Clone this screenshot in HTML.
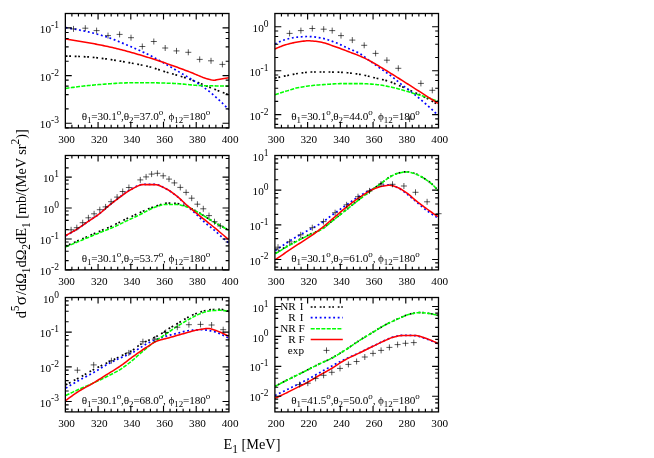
<!DOCTYPE html>
<html lang="en">
<head>
<meta charset="utf-8">
<title>d5sigma cross sections</title>
<style>
html,body{margin:0;padding:0;background:#fff;}
body{width:654px;height:458px;overflow:hidden;font-family:"Liberation Serif",serif;}
svg{display:block;opacity:0.999;will-change:transform;}
</style>
</head>
<body>
<svg width="654" height="458" viewBox="0 0 654 458" font-family='"Liberation Serif", serif' fill="#000">
<rect x="0" y="0" width="654" height="458" fill="#fff"/>
<g id="p00">
<clipPath id="c00"><rect x="65.35" y="13.5" width="163.6" height="114.4"/></clipPath>
<g clip-path="url(#c00)" fill="none" stroke-linejoin="round">
<path d="M65.7 56.1 L67.21 56.11 L68.72 56.13 L70.23 56.16 L71.74 56.19 L73.25 56.24 L74.76 56.29 L76.27 56.35 L77.78 56.41 L79.29 56.48 L80.8 56.55 L82.31 56.63 L83.82 56.71 L85.33 56.79 L86.84 56.87 L88.35 56.97 L89.86 57.09 L91.37 57.21 L92.88 57.36 L94.39 57.51 L95.9 57.67 L97.41 57.84 L98.92 58.02 L100.43 58.2 L101.94 58.38 L103.45 58.57 L104.96 58.77 L106.48 58.96 L107.99 59.15 L109.5 59.36 L111.01 59.58 L112.52 59.81 L114.03 60.04 L115.54 60.29 L117.05 60.54 L118.56 60.8 L120.07 61.06 L121.58 61.32 L123.09 61.59 L124.6 61.87 L126.11 62.14 L127.62 62.41 L129.13 62.69 L130.64 62.96 L132.15 63.23 L133.66 63.51 L135.17 63.79 L136.68 64.07 L138.19 64.36 L139.7 64.66 L141.21 64.96 L142.72 65.28 L144.23 65.6 L145.74 65.94 L147.25 66.28 L148.76 66.64 L150.27 67.02 L151.78 67.43 L153.29 67.87 L154.8 68.34 L156.31 68.82 L157.82 69.31 L159.33 69.82 L160.84 70.33 L162.35 70.83 L163.86 71.33 L165.37 71.81 L166.88 72.28 L168.39 72.73 L169.9 73.18 L171.41 73.62 L172.92 74.05 L174.43 74.48 L175.94 74.92 L177.45 75.35 L178.96 75.79 L180.47 76.24 L181.98 76.69 L183.49 77.16 L185 77.64 L186.51 78.13 L188.03 78.65 L189.54 79.18 L191.05 79.74 L192.56 80.32 L194.07 80.91 L195.58 81.51 L197.09 82.13 L198.6 82.75 L200.11 83.38 L201.62 84.01 L203.13 84.64 L204.64 85.27 L206.15 85.89 L207.66 86.5 L209.17 87.11 L210.68 87.7 L212.19 88.3 L213.7 88.89 L215.21 89.49 L216.72 90.08 L218.23 90.67 L219.74 91.27 L221.25 91.86 L222.76 92.45 L224.27 93.04 L225.78 93.62 L227.29 94.21 L228.8 94.8" stroke="#000" stroke-width="1.7" stroke-dasharray="1.8 1.7 1.8 3.72"/>
<path d="M65.7 27.7 L67.21 27.91 L68.72 28.14 L70.23 28.38 L71.74 28.62 L73.25 28.88 L74.76 29.15 L76.27 29.42 L77.78 29.71 L79.29 30 L80.8 30.3 L82.31 30.61 L83.82 30.92 L85.33 31.24 L86.84 31.57 L88.35 31.91 L89.86 32.27 L91.37 32.63 L92.88 33.01 L94.39 33.39 L95.9 33.79 L97.41 34.2 L98.92 34.62 L100.43 35.05 L101.94 35.5 L103.45 35.95 L104.96 36.42 L106.48 36.9 L107.99 37.39 L109.5 37.91 L111.01 38.45 L112.52 39.02 L114.03 39.6 L115.54 40.2 L117.05 40.81 L118.56 41.44 L120.07 42.07 L121.58 42.71 L123.09 43.36 L124.6 44.01 L126.11 44.65 L127.62 45.3 L129.13 45.94 L130.64 46.58 L132.15 47.22 L133.66 47.87 L135.17 48.53 L136.68 49.19 L138.19 49.85 L139.7 50.53 L141.21 51.21 L142.72 51.9 L144.23 52.61 L145.74 53.32 L147.25 54.05 L148.76 54.78 L150.27 55.54 L151.78 56.31 L153.29 57.11 L154.8 57.92 L156.31 58.75 L157.82 59.59 L159.33 60.44 L160.84 61.29 L162.35 62.15 L163.86 63.01 L165.37 63.87 L166.88 64.74 L168.39 65.62 L169.9 66.5 L171.41 67.39 L172.92 68.29 L174.43 69.19 L175.94 70.09 L177.45 70.99 L178.96 71.89 L180.47 72.78 L181.98 73.68 L183.49 74.56 L185 75.44 L186.51 76.32 L188.03 77.21 L189.54 78.11 L191.05 79.02 L192.56 79.94 L194.07 80.89 L195.58 81.87 L197.09 82.84 L198.6 83.84 L200.11 84.84 L201.62 85.86 L203.13 86.91 L204.64 87.99 L206.15 89.09 L207.66 90.23 L209.17 91.41 L210.68 92.63 L212.19 93.88 L213.7 95.16 L215.21 96.47 L216.72 97.81 L218.23 99.19 L219.74 100.6 L221.25 102.04 L222.76 103.51 L224.27 105.01 L225.78 106.54 L227.29 108.11 L228.8 109.7" stroke="#0000ff" stroke-width="1.7" stroke-dasharray="1.85 2.65"/>
<path d="M65.5 88.4 L67.01 88.19 L68.52 87.97 L70.04 87.77 L71.55 87.56 L73.06 87.36 L74.57 87.16 L76.08 86.97 L77.6 86.78 L79.11 86.59 L80.62 86.41 L82.13 86.23 L83.64 86.06 L85.16 85.89 L86.67 85.72 L88.18 85.56 L89.69 85.41 L91.2 85.26 L92.72 85.12 L94.23 84.98 L95.74 84.85 L97.25 84.72 L98.76 84.6 L100.28 84.49 L101.79 84.37 L103.3 84.25 L104.81 84.13 L106.33 84.01 L107.84 83.89 L109.35 83.78 L110.86 83.67 L112.37 83.56 L113.89 83.46 L115.4 83.36 L116.91 83.27 L118.42 83.18 L119.93 83.1 L121.45 83.03 L122.96 82.96 L124.47 82.91 L125.98 82.86 L127.49 82.83 L129.01 82.8 L130.52 82.79 L132.03 82.77 L133.54 82.76 L135.05 82.75 L136.57 82.74 L138.08 82.73 L139.59 82.72 L141.1 82.71 L142.61 82.71 L144.13 82.7 L145.64 82.7 L147.15 82.7 L148.66 82.71 L150.17 82.72 L151.69 82.74 L153.2 82.76 L154.71 82.79 L156.22 82.82 L157.73 82.86 L159.25 82.9 L160.76 82.95 L162.27 82.99 L163.78 83.04 L165.29 83.1 L166.81 83.15 L168.32 83.21 L169.83 83.26 L171.34 83.32 L172.85 83.38 L174.37 83.44 L175.88 83.52 L177.39 83.62 L178.9 83.73 L180.41 83.86 L181.93 83.99 L183.44 84.14 L184.95 84.28 L186.46 84.44 L187.98 84.59 L189.49 84.74 L191 84.88 L192.51 85.02 L194.02 85.15 L195.54 85.27 L197.05 85.38 L198.56 85.47 L200.07 85.54 L201.58 85.59 L203.1 85.63 L204.61 85.67 L206.12 85.7 L207.63 85.74 L209.14 85.77 L210.66 85.8 L212.17 85.83 L213.68 85.86 L215.19 85.88 L216.7 85.91 L218.22 85.93 L219.73 85.94 L221.24 85.96 L222.75 85.97 L224.26 85.99 L225.78 85.99 L227.29 86 L228.8 86" stroke="#00ff00" stroke-width="1.55" stroke-dasharray="4.0 1.34"/>
<path d="M65.7 39.1 L67.21 39.32 L68.72 39.54 L70.23 39.76 L71.74 39.99 L73.25 40.22 L74.76 40.46 L76.27 40.7 L77.78 40.94 L79.29 41.19 L80.8 41.44 L82.31 41.69 L83.82 41.95 L85.33 42.21 L86.84 42.47 L88.35 42.74 L89.86 43.01 L91.37 43.28 L92.88 43.56 L94.39 43.84 L95.9 44.13 L97.41 44.42 L98.92 44.71 L100.43 45.01 L101.94 45.32 L103.45 45.63 L104.96 45.94 L106.48 46.26 L107.99 46.59 L109.5 46.92 L111.01 47.26 L112.52 47.6 L114.03 47.95 L115.54 48.31 L117.05 48.68 L118.56 49.06 L120.07 49.44 L121.58 49.83 L123.09 50.22 L124.6 50.62 L126.11 51.02 L127.62 51.43 L129.13 51.84 L130.64 52.26 L132.15 52.67 L133.66 53.1 L135.17 53.52 L136.68 53.96 L138.19 54.4 L139.7 54.84 L141.21 55.3 L142.72 55.75 L144.23 56.22 L145.74 56.68 L147.25 57.15 L148.76 57.62 L150.27 58.1 L151.78 58.58 L153.29 59.06 L154.8 59.55 L156.31 60.04 L157.82 60.54 L159.33 61.04 L160.84 61.55 L162.35 62.06 L163.86 62.57 L165.37 63.09 L166.88 63.61 L168.39 64.13 L169.9 64.66 L171.41 65.19 L172.92 65.72 L174.43 66.26 L175.94 66.8 L177.45 67.35 L178.96 67.91 L180.47 68.47 L181.98 69.03 L183.49 69.6 L185 70.17 L186.51 70.74 L188.03 71.31 L189.54 71.89 L191.05 72.47 L192.56 73.08 L194.07 73.7 L195.58 74.34 L197.09 74.99 L198.6 75.63 L200.11 76.26 L201.62 76.87 L203.13 77.45 L204.64 77.99 L206.15 78.49 L207.66 78.94 L209.17 79.36 L210.68 79.73 L212.19 80.05 L213.7 80.3 L215.21 80.13 L216.72 79.81 L218.23 79.54 L219.74 79.27 L221.25 79.01 L222.76 78.74 L224.27 78.48 L225.78 78.22 L227.29 77.96 L228.8 77.7" stroke="#ff0000" stroke-width="1.55"/>
</g>
<path d="M70.5 28.9h6M73.5 25.9v6M82.3 28.2h6M85.3 25.2v6M93.6 30.6h6M96.6 27.6v6M105 35.6h6M108 32.6v6M116.6 34.4h6M119.6 31.4v6M128 37.7h6M131 34.7v6M139.3 46.5h6M142.3 43.5v6M150.8 41.5h6M153.8 38.5v6M162.2 48h6M165.2 45v6M173.5 50.9h6M176.5 47.9v6M185.3 52.3h6M188.3 49.3v6M196.7 59.4h6M199.7 56.4v6M208 60.8h6M211 57.8v6M219.4 64.4h6M222.4 61.4v6" stroke="#000" stroke-width="0.65" fill="none"/>
<path d="M71.89 127.9v-3.1M71.89 13.5v3.1M78.44 127.9v-3.1M78.44 13.5v3.1M84.98 127.9v-3.1M84.98 13.5v3.1M91.53 127.9v-3.1M91.53 13.5v3.1M98.07 127.9v-6M98.07 13.5v6M104.61 127.9v-3.1M104.61 13.5v3.1M111.16 127.9v-3.1M111.16 13.5v3.1M117.7 127.9v-3.1M117.7 13.5v3.1M124.25 127.9v-3.1M124.25 13.5v3.1M130.79 127.9v-6M130.79 13.5v6M137.33 127.9v-3.1M137.33 13.5v3.1M143.88 127.9v-3.1M143.88 13.5v3.1M150.42 127.9v-3.1M150.42 13.5v3.1M156.97 127.9v-3.1M156.97 13.5v3.1M163.51 127.9v-6M163.51 13.5v6M170.05 127.9v-3.1M170.05 13.5v3.1M176.6 127.9v-3.1M176.6 13.5v3.1M183.14 127.9v-3.1M183.14 13.5v3.1M189.69 127.9v-3.1M189.69 13.5v3.1M196.23 127.9v-6M196.23 13.5v6M202.77 127.9v-3.1M202.77 13.5v3.1M209.32 127.9v-3.1M209.32 13.5v3.1M215.86 127.9v-3.1M215.86 13.5v3.1M222.41 127.9v-3.1M222.41 13.5v3.1M65.35 127.9h3.3M228.95 127.9h-3.3M65.35 123.28h6.4M228.95 123.28h-6.4M65.35 108.92h3.3M228.95 108.92h-3.3M65.35 94.55h3.3M228.95 94.55h-3.3M65.35 86.15h3.3M228.95 86.15h-3.3M65.35 80.19h3.3M228.95 80.19h-3.3M65.35 75.57h6.4M228.95 75.57h-6.4M65.35 61.21h3.3M228.95 61.21h-3.3M65.35 46.85h3.3M228.95 46.85h-3.3M65.35 38.45h3.3M228.95 38.45h-3.3M65.35 32.48h3.3M228.95 32.48h-3.3M65.35 27.86h6.4M228.95 27.86h-6.4M65.35 13.5h3.3M228.95 13.5h-3.3" stroke="#000" stroke-width="1.15" fill="none"/>
<rect x="65.35" y="13.5" width="163.6" height="114.4" fill="none" stroke="#000" stroke-width="1.3"/>
<text x="66.55" y="142.9" font-size="11.2" text-anchor="middle">300</text>
<text x="99.27" y="142.9" font-size="11.2" text-anchor="middle">320</text>
<text x="131.99" y="142.9" font-size="11.2" text-anchor="middle">340</text>
<text x="164.71" y="142.9" font-size="11.2" text-anchor="middle">360</text>
<text x="197.43" y="142.9" font-size="11.2" text-anchor="middle">380</text>
<text x="230.15" y="142.9" font-size="11.2" text-anchor="middle">400</text>
<text x="58.95" y="32.96" font-size="11.2" text-anchor="end">10<tspan font-size="9.52" dy="-5.1">-1</tspan></text>
<text x="58.95" y="80.67" font-size="11.2" text-anchor="end">10<tspan font-size="9.52" dy="-5.1">-2</tspan></text>
<text x="58.95" y="128.38" font-size="11.2" text-anchor="end">10<tspan font-size="9.52" dy="-5.1">-3</tspan></text>
<text x="81.75" y="119.6" font-size="11.2" textLength="128.4" lengthAdjust="spacing">θ<tspan font-size="8.96" dy="3.2">1</tspan><tspan dy="-3.2">=30.1</tspan><tspan font-size="8.96" dy="-5">o</tspan><tspan dy="5">,θ</tspan><tspan font-size="8.96" dy="3.2">2</tspan><tspan dy="-3.2">=37.0</tspan><tspan font-size="8.96" dy="-5">o</tspan><tspan dy="5">, ϕ</tspan><tspan font-size="8.96" dy="3.2">12</tspan><tspan dy="-3.2">=180</tspan><tspan font-size="8.96" dy="-5">o</tspan></text>
</g>
<g id="p10">
<clipPath id="c10"><rect x="274.9" y="13.5" width="163.6" height="114.4"/></clipPath>
<g clip-path="url(#c10)" fill="none" stroke-linejoin="round">
<path d="M275 78.1 L276.51 77.78 L278.02 77.45 L279.52 77.13 L281.03 76.82 L282.54 76.51 L284.05 76.2 L285.56 75.89 L287.07 75.59 L288.57 75.28 L290.08 74.96 L291.59 74.63 L293.1 74.32 L294.61 74.02 L296.12 73.75 L297.62 73.51 L299.13 73.3 L300.64 73.1 L302.15 72.89 L303.66 72.69 L305.17 72.5 L306.68 72.34 L308.18 72.2 L309.69 72.09 L311.2 72.02 L312.71 72 L314.22 72 L315.73 72 L317.23 72 L318.74 72 L320.25 72 L321.76 72 L323.27 72 L324.77 72 L326.28 72 L327.79 72 L329.3 72.01 L330.81 72.03 L332.32 72.06 L333.82 72.09 L335.33 72.12 L336.84 72.17 L338.35 72.21 L339.86 72.26 L341.37 72.31 L342.88 72.38 L344.38 72.48 L345.89 72.6 L347.4 72.73 L348.91 72.89 L350.42 73.06 L351.92 73.25 L353.43 73.44 L354.94 73.65 L356.45 73.87 L357.96 74.09 L359.47 74.32 L360.97 74.56 L362.48 74.84 L363.99 75.15 L365.5 75.5 L367.01 75.86 L368.52 76.25 L370.02 76.64 L371.53 77.03 L373.04 77.42 L374.55 77.79 L376.06 78.15 L377.57 78.49 L379.07 78.83 L380.58 79.17 L382.09 79.52 L383.6 79.88 L385.11 80.26 L386.62 80.67 L388.12 81.11 L389.63 81.6 L391.14 82.14 L392.65 82.72 L394.16 83.34 L395.67 83.99 L397.17 84.64 L398.68 85.31 L400.19 85.97 L401.7 86.61 L403.21 87.27 L404.72 87.93 L406.22 88.6 L407.73 89.28 L409.24 89.96 L410.75 90.66 L412.26 91.35 L413.77 92.05 L415.27 92.75 L416.78 93.45 L418.29 94.15 L419.8 94.85 L421.31 95.56 L422.82 96.29 L424.32 97.03 L425.83 97.79 L427.34 98.57 L428.85 99.38 L430.36 100.21 L431.87 101.07 L433.38 101.95 L434.88 102.85 L436.39 103.76 L437.9 104.7" stroke="#000" stroke-width="1.7" stroke-dasharray="1.8 1.7 1.8 3.72"/>
<path d="M275 44.1 L276.51 43.31 L278.02 42.55 L279.52 41.83 L281.03 41.16 L282.54 40.55 L284.05 39.99 L285.56 39.5 L287.07 39.08 L288.57 38.71 L290.08 38.35 L291.59 38.02 L293.1 37.72 L294.61 37.46 L296.12 37.24 L297.62 37.07 L299.13 36.94 L300.64 36.83 L302.15 36.73 L303.66 36.64 L305.17 36.57 L306.68 36.52 L308.18 36.5 L309.69 36.53 L311.2 36.61 L312.71 36.74 L314.22 36.91 L315.73 37.11 L317.23 37.32 L318.74 37.55 L320.25 37.79 L321.76 38.08 L323.27 38.43 L324.77 38.83 L326.28 39.28 L327.79 39.76 L329.3 40.27 L330.81 40.79 L332.32 41.33 L333.82 41.87 L335.33 42.44 L336.84 43.05 L338.35 43.71 L339.86 44.4 L341.37 45.11 L342.88 45.83 L344.38 46.55 L345.89 47.28 L347.4 47.98 L348.91 48.66 L350.42 49.31 L351.92 49.94 L353.43 50.57 L354.94 51.21 L356.45 51.89 L357.96 52.61 L359.47 53.4 L360.97 54.29 L362.48 55.32 L363.99 56.45 L365.5 57.64 L367.01 58.83 L368.52 60 L370.02 61.09 L371.53 62.17 L373.04 63.24 L374.55 64.3 L376.06 65.35 L377.57 66.4 L379.07 67.46 L380.58 68.51 L382.09 69.57 L383.6 70.64 L385.11 71.71 L386.62 72.77 L388.12 73.83 L389.63 74.91 L391.14 76.03 L392.65 77.18 L394.16 78.39 L395.67 79.63 L397.17 80.89 L398.68 82.16 L400.19 83.4 L401.7 84.62 L403.21 85.8 L404.72 86.94 L406.22 88.07 L407.73 89.19 L409.24 90.31 L410.75 91.44 L412.26 92.59 L413.77 93.77 L415.27 94.99 L416.78 96.23 L418.29 97.48 L419.8 98.76 L421.31 100.05 L422.82 101.35 L424.32 102.67 L425.83 104 L427.34 105.35 L428.85 106.7 L430.36 108.08 L431.87 109.47 L433.38 110.88 L434.88 112.31 L436.39 113.75 L437.9 115.2" stroke="#0000ff" stroke-width="1.7" stroke-dasharray="1.85 2.65"/>
<path d="M275 94.7 L276.51 94.2 L278.02 93.71 L279.52 93.23 L281.03 92.75 L282.54 92.27 L284.05 91.8 L285.56 91.34 L287.07 90.88 L288.57 90.41 L290.08 89.93 L291.59 89.45 L293.1 88.98 L294.61 88.53 L296.12 88.12 L297.62 87.76 L299.13 87.46 L300.64 87.17 L302.15 86.91 L303.66 86.66 L305.17 86.43 L306.68 86.21 L308.18 86.01 L309.69 85.82 L311.2 85.65 L312.71 85.49 L314.22 85.34 L315.73 85.21 L317.23 85.08 L318.74 84.96 L320.25 84.84 L321.76 84.74 L323.27 84.63 L324.77 84.53 L326.28 84.43 L327.79 84.33 L329.3 84.22 L330.81 84.11 L332.32 84 L333.82 83.89 L335.33 83.79 L336.84 83.71 L338.35 83.65 L339.86 83.61 L341.37 83.6 L342.88 83.6 L344.38 83.6 L345.89 83.6 L347.4 83.6 L348.91 83.6 L350.42 83.6 L351.92 83.6 L353.43 83.6 L354.94 83.6 L356.45 83.6 L357.96 83.6 L359.47 83.6 L360.97 83.6 L362.48 83.63 L363.99 83.68 L365.5 83.74 L367.01 83.82 L368.52 83.91 L370.02 84.02 L371.53 84.13 L373.04 84.24 L374.55 84.36 L376.06 84.49 L377.57 84.66 L379.07 84.85 L380.58 85.07 L382.09 85.31 L383.6 85.57 L385.11 85.84 L386.62 86.12 L388.12 86.4 L389.63 86.71 L391.14 87.04 L392.65 87.4 L394.16 87.79 L395.67 88.18 L397.17 88.59 L398.68 89.01 L400.19 89.42 L401.7 89.84 L403.21 90.26 L404.72 90.7 L406.22 91.15 L407.73 91.6 L409.24 92.06 L410.75 92.53 L412.26 92.99 L413.77 93.44 L415.27 93.89 L416.78 94.32 L418.29 94.76 L419.8 95.19 L421.31 95.62 L422.82 96.06 L424.32 96.52 L425.83 96.99 L427.34 97.48 L428.85 98 L430.36 98.54 L431.87 99.09 L433.38 99.67 L434.88 100.27 L436.39 100.88 L437.9 101.5" stroke="#00ff00" stroke-width="1.55" stroke-dasharray="4.0 1.34"/>
<path d="M275 49 L276.51 48.31 L278.02 47.64 L279.52 47.01 L281.03 46.4 L282.54 45.84 L284.05 45.31 L285.56 44.82 L287.07 44.38 L288.57 43.97 L290.08 43.58 L291.59 43.22 L293.1 42.87 L294.61 42.56 L296.12 42.27 L297.62 42.02 L299.13 41.79 L300.64 41.56 L302.15 41.33 L303.66 41.13 L305.17 40.96 L306.68 40.85 L308.18 40.8 L309.69 40.82 L311.2 40.9 L312.71 41.02 L314.22 41.17 L315.73 41.35 L317.23 41.55 L318.74 41.76 L320.25 41.99 L321.76 42.28 L323.27 42.64 L324.77 43.07 L326.28 43.54 L327.79 44.05 L329.3 44.58 L330.81 45.12 L332.32 45.66 L333.82 46.17 L335.33 46.69 L336.84 47.22 L338.35 47.77 L339.86 48.34 L341.37 48.91 L342.88 49.49 L344.38 50.07 L345.89 50.65 L347.4 51.23 L348.91 51.81 L350.42 52.37 L351.92 52.93 L353.43 53.49 L354.94 54.06 L356.45 54.65 L357.96 55.25 L359.47 55.87 L360.97 56.52 L362.48 57.2 L363.99 57.9 L365.5 58.63 L367.01 59.38 L368.52 60.15 L370.02 60.94 L371.53 61.76 L373.04 62.61 L374.55 63.48 L376.06 64.37 L377.57 65.27 L379.07 66.18 L380.58 67.09 L382.09 68.01 L383.6 68.92 L385.11 69.83 L386.62 70.75 L388.12 71.68 L389.63 72.62 L391.14 73.56 L392.65 74.5 L394.16 75.44 L395.67 76.39 L397.17 77.33 L398.68 78.28 L400.19 79.23 L401.7 80.18 L403.21 81.14 L404.72 82.09 L406.22 83.05 L407.73 84.01 L409.24 84.97 L410.75 85.93 L412.26 86.89 L413.77 87.85 L415.27 88.82 L416.78 89.78 L418.29 90.75 L419.8 91.72 L421.31 92.68 L422.82 93.65 L424.32 94.62 L425.83 95.59 L427.34 96.57 L428.85 97.54 L430.36 98.51 L431.87 99.49 L433.38 100.46 L434.88 101.44 L436.39 102.42 L437.9 103.4" stroke="#ff0000" stroke-width="1.55"/>
</g>
<path d="M286.6 33.4h6M289.6 30.4v6M297.9 30.6h6M300.9 27.6v6M309.3 28.5h6M312.3 25.5v6M320.7 29.2h6M323.7 26.2v6M329.2 30.6h6M332.2 27.6v6M338 35.6h6M341 32.6v6M349.3 40.1h6M352.3 37.1v6M361.2 45.3h6M364.2 42.3v6M372.6 53.4h6M375.6 50.4v6M383.9 60.2h6M386.9 57.2v6M395.3 68.3h6M398.3 65.3v6M406.6 119.1h6M409.6 116.1v6M417.9 83.4h6M420.9 80.4v6M429.3 90.3h6M432.3 87.3v6" stroke="#000" stroke-width="0.65" fill="none"/>
<path d="M281.44 127.9v-3.1M281.44 13.5v3.1M287.99 127.9v-3.1M287.99 13.5v3.1M294.53 127.9v-3.1M294.53 13.5v3.1M301.08 127.9v-3.1M301.08 13.5v3.1M307.62 127.9v-6M307.62 13.5v6M314.16 127.9v-3.1M314.16 13.5v3.1M320.71 127.9v-3.1M320.71 13.5v3.1M327.25 127.9v-3.1M327.25 13.5v3.1M333.8 127.9v-3.1M333.8 13.5v3.1M340.34 127.9v-6M340.34 13.5v6M346.88 127.9v-3.1M346.88 13.5v3.1M353.43 127.9v-3.1M353.43 13.5v3.1M359.97 127.9v-3.1M359.97 13.5v3.1M366.52 127.9v-3.1M366.52 13.5v3.1M373.06 127.9v-6M373.06 13.5v6M379.6 127.9v-3.1M379.6 13.5v3.1M386.15 127.9v-3.1M386.15 13.5v3.1M392.69 127.9v-3.1M392.69 13.5v3.1M399.24 127.9v-3.1M399.24 13.5v3.1M405.78 127.9v-6M405.78 13.5v6M412.32 127.9v-3.1M412.32 13.5v3.1M418.87 127.9v-3.1M418.87 13.5v3.1M425.41 127.9v-3.1M425.41 13.5v3.1M431.96 127.9v-3.1M431.96 13.5v3.1M274.9 124.42h3.3M438.5 124.42h-3.3M274.9 118.93h3.3M438.5 118.93h-3.3M274.9 114.67h6.4M438.5 114.67h-6.4M274.9 101.43h3.3M438.5 101.43h-3.3M274.9 88.2h3.3M438.5 88.2h-3.3M274.9 80.45h3.3M438.5 80.45h-3.3M274.9 74.96h3.3M438.5 74.96h-3.3M274.9 70.7h6.4M438.5 70.7h-6.4M274.9 57.47h3.3M438.5 57.47h-3.3M274.9 44.23h3.3M438.5 44.23h-3.3M274.9 36.49h3.3M438.5 36.49h-3.3M274.9 31h3.3M438.5 31h-3.3M274.9 26.73h6.4M438.5 26.73h-6.4M274.9 13.5h3.3M438.5 13.5h-3.3" stroke="#000" stroke-width="1.15" fill="none"/>
<rect x="274.9" y="13.5" width="163.6" height="114.4" fill="none" stroke="#000" stroke-width="1.3"/>
<text x="276.1" y="142.9" font-size="11.2" text-anchor="middle">300</text>
<text x="308.82" y="142.9" font-size="11.2" text-anchor="middle">320</text>
<text x="341.54" y="142.9" font-size="11.2" text-anchor="middle">340</text>
<text x="374.26" y="142.9" font-size="11.2" text-anchor="middle">360</text>
<text x="406.98" y="142.9" font-size="11.2" text-anchor="middle">380</text>
<text x="439.7" y="142.9" font-size="11.2" text-anchor="middle">400</text>
<text x="268.5" y="31.83" font-size="11.2" text-anchor="end">10<tspan font-size="9.52" dy="-5.1">0</tspan></text>
<text x="268.5" y="75.8" font-size="11.2" text-anchor="end">10<tspan font-size="9.52" dy="-5.1">-1</tspan></text>
<text x="268.5" y="119.77" font-size="11.2" text-anchor="end">10<tspan font-size="9.52" dy="-5.1">-2</tspan></text>
<text x="291.3" y="119.6" font-size="11.2" textLength="128.4" lengthAdjust="spacing">θ<tspan font-size="8.96" dy="3.2">1</tspan><tspan dy="-3.2">=30.1</tspan><tspan font-size="8.96" dy="-5">o</tspan><tspan dy="5">,θ</tspan><tspan font-size="8.96" dy="3.2">2</tspan><tspan dy="-3.2">=44.0</tspan><tspan font-size="8.96" dy="-5">o</tspan><tspan dy="5">, ϕ</tspan><tspan font-size="8.96" dy="3.2">12</tspan><tspan dy="-3.2">=180</tspan><tspan font-size="8.96" dy="-5">o</tspan></text>
</g>
<g id="p01">
<clipPath id="c01"><rect x="65.35" y="155.5" width="163.6" height="114.4"/></clipPath>
<g clip-path="url(#c01)" fill="none" stroke-linejoin="round">
<path d="M65.7 246.1 L67.21 245.45 L68.72 244.8 L70.23 244.14 L71.74 243.49 L73.25 242.83 L74.76 242.18 L76.26 241.52 L77.77 240.86 L79.28 240.2 L80.79 239.54 L82.3 238.88 L83.81 238.21 L85.32 237.55 L86.83 236.89 L88.34 236.23 L89.85 235.57 L91.36 234.9 L92.87 234.24 L94.38 233.58 L95.89 232.92 L97.39 232.26 L98.9 231.6 L100.41 230.94 L101.92 230.29 L103.43 229.65 L104.94 229.02 L106.45 228.39 L107.96 227.76 L109.47 227.12 L110.98 226.46 L112.49 225.76 L114 225.03 L115.51 224.29 L117.01 223.54 L118.52 222.79 L120.03 222.04 L121.54 221.27 L123.05 220.51 L124.56 219.74 L126.07 218.99 L127.58 218.27 L129.09 217.57 L130.6 216.88 L132.11 216.21 L133.62 215.54 L135.13 214.86 L136.64 214.17 L138.14 213.46 L139.65 212.75 L141.16 212.04 L142.67 211.35 L144.18 210.68 L145.69 210.02 L147.2 209.37 L148.71 208.75 L150.22 208.15 L151.73 207.58 L153.24 207.01 L154.75 206.47 L156.26 205.95 L157.76 205.47 L159.27 205.03 L160.78 204.57 L162.29 204.1 L163.8 203.69 L165.31 203.37 L166.82 203.21 L168.33 203.2 L169.84 203.21 L171.35 203.23 L172.86 203.25 L174.37 203.28 L175.88 203.33 L177.39 203.5 L178.89 203.8 L180.4 204.21 L181.91 204.69 L183.42 205.22 L184.93 205.77 L186.44 206.31 L187.95 206.9 L189.46 207.57 L190.97 208.32 L192.48 209.11 L193.99 209.93 L195.5 210.76 L197.01 211.59 L198.51 212.45 L200.02 213.35 L201.53 214.28 L203.04 215.22 L204.55 216.18 L206.06 217.15 L207.57 218.12 L209.08 219.07 L210.59 220.01 L212.1 220.93 L213.61 221.81 L215.12 222.69 L216.63 223.55 L218.14 224.41 L219.64 225.26 L221.15 226.11 L222.66 226.94 L224.17 227.77 L225.68 228.59 L227.19 229.4 L228.7 230.2" stroke="#000" stroke-width="1.7" stroke-dasharray="1.8 1.7 1.8 3.72"/>
<path d="M65.7 235.7 L67.21 234.91 L68.72 234.09 L70.23 233.25 L71.74 232.38 L73.25 231.5 L74.76 230.59 L76.26 229.66 L77.77 228.71 L79.28 227.71 L80.79 226.68 L82.3 225.62 L83.81 224.55 L85.32 223.47 L86.83 222.4 L88.34 221.34 L89.85 220.31 L91.36 219.3 L92.87 218.3 L94.38 217.3 L95.89 216.27 L97.39 215.21 L98.9 214.09 L100.41 212.91 L101.92 211.6 L103.43 210.22 L104.94 208.83 L106.45 207.5 L107.96 206.24 L109.47 205 L110.98 203.79 L112.49 202.6 L114 201.42 L115.51 200.26 L117.01 199.12 L118.52 197.99 L120.03 196.88 L121.54 195.75 L123.05 194.61 L124.56 193.48 L126.07 192.38 L127.58 191.34 L129.09 190.38 L130.6 189.51 L132.11 188.71 L133.62 187.88 L135.13 187.05 L136.64 186.26 L138.14 185.55 L139.65 184.97 L141.16 184.54 L142.67 184.32 L144.18 184.3 L145.69 184.3 L147.2 184.31 L148.71 184.32 L150.22 184.34 L151.73 184.35 L153.24 184.37 L154.75 184.4 L156.26 184.53 L157.76 184.88 L159.27 185.41 L160.78 186.08 L162.29 186.83 L163.8 187.62 L165.31 188.41 L166.82 189.19 L168.33 190.06 L169.84 191.03 L171.35 192.07 L172.86 193.17 L174.37 194.31 L175.88 195.49 L177.39 196.7 L178.89 198.02 L180.4 199.42 L181.91 200.88 L183.42 202.35 L184.93 203.81 L186.44 205.24 L187.95 206.63 L189.46 208.01 L190.97 209.39 L192.48 210.77 L193.99 212.15 L195.5 213.55 L197.01 214.97 L198.51 216.42 L200.02 217.88 L201.53 219.35 L203.04 220.78 L204.55 222.16 L206.06 223.47 L207.57 224.73 L209.08 225.96 L210.59 227.17 L212.1 228.4 L213.61 229.65 L215.12 230.95 L216.63 232.3 L218.14 233.67 L219.64 235.06 L221.15 236.44 L222.66 237.79 L224.17 239.12 L225.68 240.42 L227.19 241.72 L228.7 243" stroke="#0000ff" stroke-width="1.7" stroke-dasharray="1.85 2.65"/>
<path d="M65.7 246.9 L67.21 246.28 L68.72 245.65 L70.23 245.02 L71.74 244.4 L73.25 243.77 L74.76 243.14 L76.26 242.51 L77.77 241.88 L79.28 241.24 L80.79 240.6 L82.3 239.96 L83.81 239.32 L85.32 238.69 L86.83 238.05 L88.34 237.43 L89.85 236.8 L91.36 236.18 L92.87 235.56 L94.38 234.94 L95.89 234.32 L97.39 233.71 L98.9 233.1 L100.41 232.48 L101.92 231.87 L103.43 231.27 L104.94 230.67 L106.45 230.08 L107.96 229.49 L109.47 228.89 L110.98 228.27 L112.49 227.63 L114 226.97 L115.51 226.29 L117.01 225.59 L118.52 224.85 L120.03 224.09 L121.54 223.32 L123.05 222.58 L124.56 221.87 L126.07 221.16 L127.58 220.46 L129.09 219.76 L130.6 219.05 L132.11 218.35 L133.62 217.65 L135.13 216.96 L136.64 216.26 L138.14 215.54 L139.65 214.77 L141.16 213.99 L142.67 213.21 L144.18 212.4 L145.69 211.59 L147.2 210.8 L148.71 210.05 L150.22 209.28 L151.73 208.53 L153.24 207.84 L154.75 207.25 L156.26 206.73 L157.76 206.19 L159.27 205.67 L160.78 205.2 L162.29 204.81 L163.8 204.54 L165.31 204.41 L166.82 204.4 L168.33 204.41 L169.84 204.42 L171.35 204.43 L172.86 204.45 L174.37 204.47 L175.88 204.49 L177.39 204.55 L178.89 204.73 L180.4 205.01 L181.91 205.38 L183.42 205.8 L184.93 206.25 L186.44 206.71 L187.95 207.23 L189.46 207.87 L190.97 208.58 L192.48 209.35 L193.99 210.16 L195.5 210.97 L197.01 211.78 L198.51 212.61 L200.02 213.49 L201.53 214.39 L203.04 215.32 L204.55 216.26 L206.06 217.21 L207.57 218.16 L209.08 219.1 L210.59 220.03 L212.1 220.93 L213.61 221.81 L215.12 222.68 L216.63 223.54 L218.14 224.39 L219.64 225.24 L221.15 226.08 L222.66 226.92 L224.17 227.75 L225.68 228.57 L227.19 229.39 L228.7 230.2" stroke="#00ff00" stroke-width="1.55" stroke-dasharray="4.0 1.34"/>
<path d="M65.7 235.5 L67.21 234.72 L68.72 233.92 L70.23 233.09 L71.74 232.24 L73.25 231.36 L74.76 230.47 L76.26 229.55 L77.77 228.61 L79.28 227.63 L80.79 226.61 L82.3 225.57 L83.81 224.51 L85.32 223.45 L86.83 222.39 L88.34 221.34 L89.85 220.32 L91.36 219.33 L92.87 218.34 L94.38 217.35 L95.89 216.33 L97.39 215.28 L98.9 214.18 L100.41 213.01 L101.92 211.73 L103.43 210.38 L104.94 209.01 L106.45 207.69 L107.96 206.44 L109.47 205.21 L110.98 204 L112.49 202.8 L114 201.62 L115.51 200.46 L117.01 199.31 L118.52 198.19 L120.03 197.08 L121.54 195.96 L123.05 194.84 L124.56 193.72 L126.07 192.65 L127.58 191.62 L129.09 190.67 L130.6 189.81 L132.11 189.02 L133.62 188.19 L135.13 187.36 L136.64 186.57 L138.14 185.86 L139.65 185.27 L141.16 184.84 L142.67 184.62 L144.18 184.6 L145.69 184.6 L147.2 184.6 L148.71 184.6 L150.22 184.6 L151.73 184.6 L153.24 184.6 L154.75 184.6 L156.26 184.7 L157.76 185.03 L159.27 185.54 L160.78 186.17 L162.29 186.9 L163.8 187.66 L165.31 188.41 L166.82 189.16 L168.33 190.01 L169.84 190.95 L171.35 191.96 L172.86 193.03 L174.37 194.15 L175.88 195.3 L177.39 196.49 L178.89 197.79 L180.4 199.18 L181.91 200.61 L183.42 202.06 L184.93 203.48 L186.44 204.84 L187.95 206.14 L189.46 207.43 L190.97 208.7 L192.48 209.95 L193.99 211.2 L195.5 212.44 L197.01 213.68 L198.51 214.9 L200.02 216.12 L201.53 217.32 L203.04 218.52 L204.55 219.72 L206.06 220.91 L207.57 222.11 L209.08 223.31 L210.59 224.52 L212.1 225.75 L213.61 226.98 L215.12 228.22 L216.63 229.46 L218.14 230.71 L219.64 231.97 L221.15 233.23 L222.66 234.49 L224.17 235.76 L225.68 237.04 L227.19 238.32 L228.7 239.6" stroke="#ff0000" stroke-width="1.55"/>
</g>
<path d="M68.1 229.8h6M71.1 226.8v6M73.8 227.7h6M76.8 224.7v6M79.7 222.7h6M82.7 219.7v6M85.4 217.8h6M88.4 214.8v6M91.1 213.8h6M94.1 210.8v6M96.8 209.7h6M99.8 206.7v6M102.6 206.9h6M105.6 203.9v6M108.1 201.7h6M111.1 198.7v6M114.1 197.1h6M117.1 194.1v6M119.7 191.5h6M122.7 188.5v6M125.9 187.5h6M128.9 184.5v6M137.3 179.9h6M140.3 176.9v6M143.1 176.9h6M146.1 173.9v6M148.6 174.1h6M151.6 171.1v6M154.4 173.3h6M157.4 170.3v6M160.2 175.8h6M163.2 172.8v6M166 179.1h6M169 176.1v6M171.4 182.9h6M174.4 179.9v6M177.3 187.4h6M180.3 184.4v6M183.1 192.4h6M186.1 189.4v6M188.7 198.2h6M191.7 195.2v6M194.4 204.2h6M197.4 201.2v6M200.3 208.8h6M203.3 205.8v6M206 215.6h6M209 212.6v6M211.5 221.7h6M214.5 218.7v6M217.3 226h6M220.3 223v6" stroke="#000" stroke-width="0.65" fill="none"/>
<path d="M71.89 269.9v-3.1M71.89 155.5v3.1M78.44 269.9v-3.1M78.44 155.5v3.1M84.98 269.9v-3.1M84.98 155.5v3.1M91.53 269.9v-3.1M91.53 155.5v3.1M98.07 269.9v-6M98.07 155.5v6M104.61 269.9v-3.1M104.61 155.5v3.1M111.16 269.9v-3.1M111.16 155.5v3.1M117.7 269.9v-3.1M117.7 155.5v3.1M124.25 269.9v-3.1M124.25 155.5v3.1M130.79 269.9v-6M130.79 155.5v6M137.33 269.9v-3.1M137.33 155.5v3.1M143.88 269.9v-3.1M143.88 155.5v3.1M150.42 269.9v-3.1M150.42 155.5v3.1M156.97 269.9v-3.1M156.97 155.5v3.1M163.51 269.9v-6M163.51 155.5v6M170.05 269.9v-3.1M170.05 155.5v3.1M176.6 269.9v-3.1M176.6 155.5v3.1M183.14 269.9v-3.1M183.14 155.5v3.1M189.69 269.9v-3.1M189.69 155.5v3.1M196.23 269.9v-6M196.23 155.5v6M202.77 269.9v-3.1M202.77 155.5v3.1M209.32 269.9v-3.1M209.32 155.5v3.1M215.86 269.9v-3.1M215.86 155.5v3.1M222.41 269.9v-3.1M222.41 155.5v3.1M65.35 269.9h6.4M228.95 269.9h-6.4M65.35 260.59h3.3M228.95 260.59h-3.3M65.35 251.28h3.3M228.95 251.28h-3.3M65.35 245.83h3.3M228.95 245.83h-3.3M65.35 241.97h3.3M228.95 241.97h-3.3M65.35 238.97h6.4M228.95 238.97h-6.4M65.35 229.66h3.3M228.95 229.66h-3.3M65.35 220.35h3.3M228.95 220.35h-3.3M65.35 214.91h3.3M228.95 214.91h-3.3M65.35 211.04h3.3M228.95 211.04h-3.3M65.35 208.04h6.4M228.95 208.04h-6.4M65.35 198.73h3.3M228.95 198.73h-3.3M65.35 189.42h3.3M228.95 189.42h-3.3M65.35 183.98h3.3M228.95 183.98h-3.3M65.35 180.11h3.3M228.95 180.11h-3.3M65.35 177.12h6.4M228.95 177.12h-6.4M65.35 167.81h3.3M228.95 167.81h-3.3M65.35 158.5h3.3M228.95 158.5h-3.3" stroke="#000" stroke-width="1.15" fill="none"/>
<rect x="65.35" y="155.5" width="163.6" height="114.4" fill="none" stroke="#000" stroke-width="1.3"/>
<text x="66.55" y="284.9" font-size="11.2" text-anchor="middle">300</text>
<text x="99.27" y="284.9" font-size="11.2" text-anchor="middle">320</text>
<text x="131.99" y="284.9" font-size="11.2" text-anchor="middle">340</text>
<text x="164.71" y="284.9" font-size="11.2" text-anchor="middle">360</text>
<text x="197.43" y="284.9" font-size="11.2" text-anchor="middle">380</text>
<text x="230.15" y="284.9" font-size="11.2" text-anchor="middle">400</text>
<text x="58.95" y="182.22" font-size="11.2" text-anchor="end">10<tspan font-size="9.52" dy="-5.1">1</tspan></text>
<text x="58.95" y="213.14" font-size="11.2" text-anchor="end">10<tspan font-size="9.52" dy="-5.1">0</tspan></text>
<text x="58.95" y="244.07" font-size="11.2" text-anchor="end">10<tspan font-size="9.52" dy="-5.1">-1</tspan></text>
<text x="58.95" y="275" font-size="11.2" text-anchor="end">10<tspan font-size="9.52" dy="-5.1">-2</tspan></text>
<text x="81.75" y="261.6" font-size="11.2" textLength="128.4" lengthAdjust="spacing">θ<tspan font-size="8.96" dy="3.2">1</tspan><tspan dy="-3.2">=30.1</tspan><tspan font-size="8.96" dy="-5">o</tspan><tspan dy="5">,θ</tspan><tspan font-size="8.96" dy="3.2">2</tspan><tspan dy="-3.2">=53.7</tspan><tspan font-size="8.96" dy="-5">o</tspan><tspan dy="5">, ϕ</tspan><tspan font-size="8.96" dy="3.2">12</tspan><tspan dy="-3.2">=180</tspan><tspan font-size="8.96" dy="-5">o</tspan></text>
</g>
<g id="p11">
<clipPath id="c11"><rect x="274.9" y="155.5" width="163.6" height="114.4"/></clipPath>
<g clip-path="url(#c11)" fill="none" stroke-linejoin="round">
<path d="M275.3 253.3 L276.81 252.35 L278.31 251.4 L279.82 250.47 L281.32 249.56 L282.83 248.65 L284.33 247.75 L285.84 246.87 L287.34 246 L288.85 245.14 L290.36 244.29 L291.86 243.45 L293.37 242.63 L294.87 241.81 L296.38 241.02 L297.88 240.23 L299.39 239.46 L300.89 238.69 L302.4 237.94 L303.91 237.2 L305.41 236.47 L306.92 235.75 L308.42 235.04 L309.93 234.33 L311.43 233.63 L312.94 232.96 L314.44 232.35 L315.95 231.74 L317.46 231.13 L318.96 230.47 L320.47 229.74 L321.97 228.91 L323.48 227.94 L324.98 226.85 L326.49 225.67 L327.99 224.43 L329.5 223.16 L331.01 221.9 L332.51 220.67 L334.02 219.48 L335.52 218.3 L337.03 217.1 L338.53 215.91 L340.04 214.71 L341.54 213.51 L343.05 212.31 L344.56 211.11 L346.06 209.91 L347.57 208.71 L349.07 207.51 L350.58 206.31 L352.08 205.1 L353.59 203.9 L355.09 202.7 L356.6 201.51 L358.11 200.33 L359.61 199.16 L361.12 198 L362.62 196.84 L364.13 195.69 L365.63 194.55 L367.14 193.41 L368.64 192.28 L370.15 191.16 L371.66 190.05 L373.16 188.94 L374.67 187.86 L376.17 186.78 L377.68 185.71 L379.18 184.65 L380.69 183.58 L382.19 182.49 L383.7 181.35 L385.21 180.19 L386.71 179.04 L388.22 177.95 L389.72 176.97 L391.23 176.11 L392.73 175.3 L394.24 174.54 L395.74 173.87 L397.25 173.33 L398.76 172.95 L400.26 172.6 L401.77 172.29 L403.27 172.03 L404.78 171.86 L406.28 171.8 L407.79 171.88 L409.29 172.1 L410.8 172.43 L412.31 172.83 L413.81 173.27 L415.32 173.73 L416.82 174.32 L418.33 175.03 L419.83 175.84 L421.34 176.69 L422.84 177.57 L424.35 178.46 L425.86 179.42 L427.36 180.44 L428.87 181.54 L430.37 182.72 L431.88 183.99 L433.38 185.41 L434.89 186.96 L436.39 188.63 L437.9 190.4" stroke="#000" stroke-width="1.7" stroke-dasharray="1.8 1.7 1.8 3.72"/>
<path d="M275.3 250.6 L276.81 249.55 L278.31 248.51 L279.82 247.47 L281.32 246.46 L282.83 245.45 L284.33 244.45 L285.84 243.47 L287.34 242.5 L288.85 241.54 L290.36 240.59 L291.86 239.65 L293.37 238.73 L294.87 237.82 L296.38 236.92 L297.88 236.05 L299.39 235.19 L300.89 234.34 L302.4 233.51 L303.91 232.68 L305.41 231.85 L306.92 231.03 L308.42 230.21 L309.93 229.38 L311.43 228.54 L312.94 227.71 L314.44 226.89 L315.95 226.08 L317.46 225.26 L318.96 224.41 L320.47 223.52 L321.97 222.57 L323.48 221.54 L324.98 220.45 L326.49 219.32 L327.99 218.16 L329.5 217 L331.01 215.85 L332.51 214.73 L334.02 213.64 L335.52 212.57 L337.03 211.5 L338.53 210.44 L340.04 209.38 L341.54 208.33 L343.05 207.28 L344.56 206.24 L346.06 205.2 L347.57 204.15 L349.07 203.09 L350.58 202.03 L352.08 200.98 L353.59 199.93 L355.09 198.91 L356.6 197.91 L358.11 196.94 L359.61 196.01 L361.12 195.1 L362.62 194.19 L364.13 193.3 L365.63 192.43 L367.14 191.6 L368.64 190.79 L370.15 190.04 L371.66 189.33 L373.16 188.67 L374.67 188 L376.17 187.35 L377.68 186.75 L379.18 186.24 L380.69 185.85 L382.19 185.59 L383.7 185.38 L385.21 185.18 L386.71 185.03 L388.22 184.93 L389.72 184.9 L391.23 185.07 L392.73 185.48 L394.24 186.07 L395.74 186.76 L397.25 187.49 L398.76 188.22 L400.26 189.1 L401.77 190.1 L403.27 191.2 L404.78 192.35 L406.28 193.49 L407.79 194.65 L409.29 195.86 L410.8 197.12 L412.31 198.4 L413.81 199.69 L415.32 200.97 L416.82 202.24 L418.33 203.52 L419.83 204.83 L421.34 206.13 L422.84 207.41 L424.35 208.66 L425.86 209.84 L427.36 210.96 L428.87 212.06 L430.37 213.13 L431.88 214.17 L433.38 215.18 L434.89 216.16 L436.39 217.1 L437.9 218" stroke="#0000ff" stroke-width="1.7" stroke-dasharray="1.85 2.65"/>
<path d="M275.3 253.9 L276.81 252.94 L278.31 251.99 L279.82 251.05 L281.32 250.13 L282.83 249.21 L284.33 248.31 L285.84 247.42 L287.34 246.54 L288.85 245.67 L290.36 244.81 L291.86 243.97 L293.37 243.14 L294.87 242.32 L296.38 241.51 L297.88 240.71 L299.39 239.93 L300.89 239.16 L302.4 238.4 L303.91 237.66 L305.41 236.92 L306.92 236.18 L308.42 235.46 L309.93 234.74 L311.43 234.03 L312.94 233.35 L314.44 232.72 L315.95 232.1 L317.46 231.47 L318.96 230.8 L320.47 230.05 L321.97 229.2 L323.48 228.22 L324.98 227.11 L326.49 225.92 L327.99 224.67 L329.5 223.39 L331.01 222.11 L332.51 220.87 L334.02 219.67 L335.52 218.48 L337.03 217.27 L338.53 216.06 L340.04 214.85 L341.54 213.64 L343.05 212.42 L344.56 211.22 L346.06 210.01 L347.57 208.81 L349.07 207.6 L350.58 206.4 L352.08 205.19 L353.59 203.99 L355.09 202.8 L356.6 201.61 L358.11 200.43 L359.61 199.26 L361.12 198.1 L362.62 196.94 L364.13 195.79 L365.63 194.65 L367.14 193.51 L368.64 192.38 L370.15 191.26 L371.66 190.15 L373.16 189.04 L374.67 187.96 L376.17 186.88 L377.68 185.81 L379.18 184.75 L380.69 183.68 L382.19 182.59 L383.7 181.45 L385.21 180.29 L386.71 179.14 L388.22 178.05 L389.72 177.07 L391.23 176.21 L392.73 175.4 L394.24 174.64 L395.74 173.97 L397.25 173.43 L398.76 173.05 L400.26 172.7 L401.77 172.39 L403.27 172.13 L404.78 171.96 L406.28 171.9 L407.79 171.98 L409.29 172.2 L410.8 172.53 L412.31 172.93 L413.81 173.37 L415.32 173.83 L416.82 174.42 L418.33 175.13 L419.83 175.94 L421.34 176.79 L422.84 177.67 L424.35 178.56 L425.86 179.52 L427.36 180.54 L428.87 181.64 L430.37 182.82 L431.88 184.09 L433.38 185.51 L434.89 187.06 L436.39 188.73 L437.9 190.5" stroke="#00ff00" stroke-width="1.55" stroke-dasharray="4.0 1.34"/>
<path d="M275.3 259.7 L276.81 258.66 L278.31 257.62 L279.82 256.58 L281.32 255.55 L282.83 254.52 L284.33 253.5 L285.84 252.48 L287.34 251.46 L288.85 250.44 L290.36 249.43 L291.86 248.42 L293.37 247.42 L294.87 246.42 L296.38 245.43 L297.88 244.45 L299.39 243.49 L300.89 242.53 L302.4 241.58 L303.91 240.62 L305.41 239.66 L306.92 238.69 L308.42 237.69 L309.93 236.68 L311.43 235.65 L312.94 234.58 L314.44 233.5 L315.95 232.39 L317.46 231.27 L318.96 230.12 L320.47 228.95 L321.97 227.77 L323.48 226.55 L324.98 225.3 L326.49 224.04 L327.99 222.75 L329.5 221.47 L331.01 220.18 L332.51 218.9 L334.02 217.62 L335.52 216.34 L337.03 215.04 L338.53 213.73 L340.04 212.44 L341.54 211.15 L343.05 209.88 L344.56 208.63 L346.06 207.41 L347.57 206.22 L349.07 205.03 L350.58 203.86 L352.08 202.7 L353.59 201.56 L355.09 200.45 L356.6 199.36 L358.11 198.31 L359.61 197.29 L361.12 196.28 L362.62 195.27 L364.13 194.28 L365.63 193.31 L367.14 192.38 L368.64 191.5 L370.15 190.68 L371.66 189.94 L373.16 189.27 L374.67 188.63 L376.17 188.02 L377.68 187.46 L379.18 186.97 L380.69 186.57 L382.19 186.26 L383.7 185.97 L385.21 185.71 L386.71 185.49 L388.22 185.35 L389.72 185.3 L391.23 185.43 L392.73 185.76 L394.24 186.22 L395.74 186.78 L397.25 187.37 L398.76 187.97 L400.26 188.7 L401.77 189.57 L403.27 190.53 L404.78 191.55 L406.28 192.59 L407.79 193.69 L409.29 194.91 L410.8 196.19 L412.31 197.51 L413.81 198.82 L415.32 200.1 L416.82 201.31 L418.33 202.49 L419.83 203.65 L421.34 204.79 L422.84 205.92 L424.35 207.04 L425.86 208.15 L427.36 209.25 L428.87 210.34 L430.37 211.43 L431.88 212.5 L433.38 213.57 L434.89 214.62 L436.39 215.67 L437.9 216.7" stroke="#ff0000" stroke-width="1.55"/>
</g>
<path d="M275 247.2h6M278 244.2v6M286.6 241.8h6M289.6 238.8v6M297.7 234.8h6M300.7 231.8v6M309.3 227.7h6M312.3 224.7v6M320.5 221.6h6M323.5 218.6v6M332.1 212.7h6M335.1 209.7v6M343.6 204.8h6M346.6 201.8v6M355 196.7h6M358 193.7v6M366.5 190.9h6M369.5 187.9v6M378 184h6M381 181v6M389.5 184.3h6M392.5 181.3v6M400.9 186h6M403.9 183v6M412.5 192.3h6M415.5 189.3v6M424.1 201.8h6M427.1 198.8v6M435.6 213.7h6M438.6 210.7v6" stroke="#000" stroke-width="0.65" fill="none"/>
<path d="M281.44 269.9v-3.1M281.44 155.5v3.1M287.99 269.9v-3.1M287.99 155.5v3.1M294.53 269.9v-3.1M294.53 155.5v3.1M301.08 269.9v-3.1M301.08 155.5v3.1M307.62 269.9v-6M307.62 155.5v6M314.16 269.9v-3.1M314.16 155.5v3.1M320.71 269.9v-3.1M320.71 155.5v3.1M327.25 269.9v-3.1M327.25 155.5v3.1M333.8 269.9v-3.1M333.8 155.5v3.1M340.34 269.9v-6M340.34 155.5v6M346.88 269.9v-3.1M346.88 155.5v3.1M353.43 269.9v-3.1M353.43 155.5v3.1M359.97 269.9v-3.1M359.97 155.5v3.1M366.52 269.9v-3.1M366.52 155.5v3.1M373.06 269.9v-6M373.06 155.5v6M379.6 269.9v-3.1M379.6 155.5v3.1M386.15 269.9v-3.1M386.15 155.5v3.1M392.69 269.9v-3.1M392.69 155.5v3.1M399.24 269.9v-3.1M399.24 155.5v3.1M405.78 269.9v-6M405.78 155.5v6M412.32 269.9v-3.1M412.32 155.5v3.1M418.87 269.9v-3.1M418.87 155.5v3.1M425.41 269.9v-3.1M425.41 155.5v3.1M431.96 269.9v-3.1M431.96 155.5v3.1M274.9 267.16h3.3M438.5 267.16h-3.3M274.9 262.83h3.3M438.5 262.83h-3.3M274.9 259.47h6.4M438.5 259.47h-6.4M274.9 249.04h3.3M438.5 249.04h-3.3M274.9 238.6h3.3M438.5 238.6h-3.3M274.9 232.5h3.3M438.5 232.5h-3.3M274.9 228.17h3.3M438.5 228.17h-3.3M274.9 224.81h6.4M438.5 224.81h-6.4M274.9 214.38h3.3M438.5 214.38h-3.3M274.9 203.95h3.3M438.5 203.95h-3.3M274.9 197.84h3.3M438.5 197.84h-3.3M274.9 193.51h3.3M438.5 193.51h-3.3M274.9 190.16h6.4M438.5 190.16h-6.4M274.9 179.72h3.3M438.5 179.72h-3.3M274.9 169.29h3.3M438.5 169.29h-3.3M274.9 163.19h3.3M438.5 163.19h-3.3M274.9 158.86h3.3M438.5 158.86h-3.3M274.9 155.5h6.4M438.5 155.5h-6.4" stroke="#000" stroke-width="1.15" fill="none"/>
<rect x="274.9" y="155.5" width="163.6" height="114.4" fill="none" stroke="#000" stroke-width="1.3"/>
<text x="276.1" y="284.9" font-size="11.2" text-anchor="middle">300</text>
<text x="308.82" y="284.9" font-size="11.2" text-anchor="middle">320</text>
<text x="341.54" y="284.9" font-size="11.2" text-anchor="middle">340</text>
<text x="374.26" y="284.9" font-size="11.2" text-anchor="middle">360</text>
<text x="406.98" y="284.9" font-size="11.2" text-anchor="middle">380</text>
<text x="439.7" y="284.9" font-size="11.2" text-anchor="middle">400</text>
<text x="268.5" y="160.6" font-size="11.2" text-anchor="end">10<tspan font-size="9.52" dy="-5.1">1</tspan></text>
<text x="268.5" y="195.26" font-size="11.2" text-anchor="end">10<tspan font-size="9.52" dy="-5.1">0</tspan></text>
<text x="268.5" y="229.91" font-size="11.2" text-anchor="end">10<tspan font-size="9.52" dy="-5.1">-1</tspan></text>
<text x="268.5" y="264.57" font-size="11.2" text-anchor="end">10<tspan font-size="9.52" dy="-5.1">-2</tspan></text>
<text x="291.3" y="261.6" font-size="11.2" textLength="128.4" lengthAdjust="spacing">θ<tspan font-size="8.96" dy="3.2">1</tspan><tspan dy="-3.2">=30.1</tspan><tspan font-size="8.96" dy="-5">o</tspan><tspan dy="5">,θ</tspan><tspan font-size="8.96" dy="3.2">2</tspan><tspan dy="-3.2">=61.0</tspan><tspan font-size="8.96" dy="-5">o</tspan><tspan dy="5">, ϕ</tspan><tspan font-size="8.96" dy="3.2">12</tspan><tspan dy="-3.2">=180</tspan><tspan font-size="8.96" dy="-5">o</tspan></text>
</g>
<g id="p02">
<clipPath id="c02"><rect x="65.35" y="297.5" width="163.6" height="114.4"/></clipPath>
<g clip-path="url(#c02)" fill="none" stroke-linejoin="round">
<path d="M65.8 384.8 L67.31 384.02 L68.82 383.23 L70.33 382.44 L71.83 381.65 L73.34 380.84 L74.85 380.04 L76.36 379.23 L77.87 378.41 L79.38 377.59 L80.88 376.76 L82.39 375.91 L83.9 375.05 L85.41 374.18 L86.92 373.31 L88.42 372.44 L89.93 371.59 L91.44 370.75 L92.95 369.93 L94.46 369.14 L95.97 368.36 L97.47 367.6 L98.98 366.85 L100.49 366.11 L102 365.37 L103.51 364.63 L105.02 363.89 L106.52 363.14 L108.03 362.39 L109.54 361.64 L111.05 360.89 L112.56 360.15 L114.07 359.4 L115.57 358.65 L117.08 357.9 L118.59 357.15 L120.1 356.4 L121.61 355.67 L123.12 354.96 L124.62 354.26 L126.13 353.55 L127.64 352.82 L129.15 352.06 L130.66 351.26 L132.17 350.4 L133.67 349.46 L135.18 348.32 L136.69 347.09 L138.2 345.87 L139.71 344.78 L141.22 343.88 L142.72 343.07 L144.23 342.31 L145.74 341.59 L147.25 340.88 L148.76 340.16 L150.27 339.42 L151.77 338.68 L153.28 337.96 L154.79 337.24 L156.3 336.5 L157.81 335.74 L159.32 334.93 L160.82 334.05 L162.33 333.09 L163.84 332.06 L165.35 331.01 L166.86 329.95 L168.37 328.92 L169.88 327.95 L171.38 327.04 L172.89 326.15 L174.4 325.28 L175.91 324.42 L177.42 323.57 L178.92 322.71 L180.43 321.83 L181.94 320.91 L183.45 319.98 L184.96 319.06 L186.47 318.15 L187.97 317.3 L189.48 316.51 L190.99 315.77 L192.5 315.06 L194.01 314.37 L195.52 313.73 L197.02 313.13 L198.53 312.58 L200.04 312.09 L201.55 311.63 L203.06 311.17 L204.57 310.74 L206.07 310.37 L207.58 310.06 L209.09 309.85 L210.6 309.72 L212.11 309.6 L213.62 309.5 L215.12 309.42 L216.63 309.35 L218.14 309.31 L219.65 309.3 L221.16 309.38 L222.67 309.6 L224.17 309.94 L225.68 310.37 L227.19 310.86 L228.7 311.4" stroke="#000" stroke-width="1.7" stroke-dasharray="1.8 1.7 1.8 3.72"/>
<path d="M65.8 388.1 L67.31 387.17 L68.82 386.25 L70.33 385.34 L71.83 384.44 L73.34 383.55 L74.85 382.67 L76.36 381.8 L77.87 380.94 L79.38 380.09 L80.88 379.26 L82.39 378.45 L83.9 377.67 L85.41 376.89 L86.92 376.12 L88.42 375.35 L89.93 374.56 L91.44 373.76 L92.95 372.94 L94.46 372.08 L95.97 371.19 L97.47 370.27 L98.98 369.34 L100.49 368.4 L102 367.47 L103.51 366.56 L105.02 365.68 L106.52 364.83 L108.03 364.02 L109.54 363.22 L111.05 362.43 L112.56 361.67 L114.07 360.91 L115.57 360.17 L117.08 359.44 L118.59 358.72 L120.1 358.01 L121.61 357.35 L123.12 356.71 L124.62 356.1 L126.13 355.49 L127.64 354.88 L129.15 354.24 L130.66 353.56 L132.17 352.83 L133.67 352.03 L135.18 351.1 L136.69 350.09 L138.2 349.07 L139.71 348.08 L141.22 347.14 L142.72 346.2 L144.23 345.25 L145.74 344.34 L147.25 343.46 L148.76 342.66 L150.27 341.93 L151.77 341.26 L153.28 340.63 L154.79 340.02 L156.3 339.45 L157.81 338.9 L159.32 338.37 L160.82 337.87 L162.33 337.38 L163.84 336.9 L165.35 336.44 L166.86 336 L168.37 335.58 L169.88 335.17 L171.38 334.77 L172.89 334.38 L174.4 334 L175.91 333.62 L177.42 333.24 L178.92 332.85 L180.43 332.45 L181.94 332.05 L183.45 331.66 L184.96 331.31 L186.47 330.99 L187.97 330.73 L189.48 330.52 L190.99 330.37 L192.5 330.21 L194.01 330.07 L195.52 329.95 L197.02 329.84 L198.53 329.76 L200.04 329.71 L201.55 329.7 L203.06 329.75 L204.57 329.87 L206.07 330.05 L207.58 330.28 L209.09 330.54 L210.6 330.83 L212.11 331.14 L213.62 331.46 L215.12 331.89 L216.63 332.41 L218.14 333.01 L219.65 333.66 L221.16 334.33 L222.67 335 L224.17 335.68 L225.68 336.41 L227.19 337.19 L228.7 338" stroke="#0000ff" stroke-width="1.7" stroke-dasharray="1.85 2.65"/>
<path d="M65.8 395.5 L67.31 394.77 L68.82 394.05 L70.33 393.33 L71.83 392.62 L73.34 391.91 L74.85 391.21 L76.36 390.51 L77.87 389.82 L79.38 389.14 L80.88 388.46 L82.39 387.8 L83.9 387.14 L85.41 386.5 L86.92 385.85 L88.42 385.2 L89.93 384.55 L91.44 383.89 L92.95 383.21 L94.46 382.52 L95.97 381.83 L97.47 381.12 L98.98 380.41 L100.49 379.69 L102 378.97 L103.51 378.23 L105.02 377.49 L106.52 376.74 L108.03 375.99 L109.54 375.24 L111.05 374.5 L112.56 373.74 L114.07 372.97 L115.57 372.17 L117.08 371.34 L118.59 370.47 L120.1 369.55 L121.61 368.58 L123.12 367.54 L124.62 366.47 L126.13 365.35 L127.64 364.19 L129.15 363.01 L130.66 361.8 L132.17 360.58 L133.67 359.34 L135.18 358.03 L136.69 356.67 L138.2 355.3 L139.71 353.95 L141.22 352.65 L142.72 351.35 L144.23 350.06 L145.74 348.79 L147.25 347.53 L148.76 346.31 L150.27 345.11 L151.77 343.95 L153.28 342.8 L154.79 341.68 L156.3 340.58 L157.81 339.49 L159.32 338.41 L160.82 337.35 L162.33 336.31 L163.84 335.28 L165.35 334.27 L166.86 333.26 L168.37 332.26 L169.88 331.25 L171.38 330.24 L172.89 329.22 L174.4 328.21 L175.91 327.2 L177.42 326.22 L178.92 325.25 L180.43 324.31 L181.94 323.38 L183.45 322.47 L184.96 321.58 L186.47 320.7 L187.97 319.85 L189.48 319.02 L190.99 318.2 L192.5 317.37 L194.01 316.56 L195.52 315.78 L197.02 315.04 L198.53 314.37 L200.04 313.77 L201.55 313.19 L203.06 312.62 L204.57 312.09 L206.07 311.61 L207.58 311.23 L209.09 310.96 L210.6 310.8 L212.11 310.66 L213.62 310.54 L215.12 310.44 L216.63 310.37 L218.14 310.32 L219.65 310.3 L221.16 310.34 L222.67 310.45 L224.17 310.62 L225.68 310.84 L227.19 311.1 L228.7 311.4" stroke="#00ff00" stroke-width="1.55" stroke-dasharray="4.0 1.34"/>
<path d="M65.8 400.5 L67.31 399.34 L68.82 398.21 L70.33 397.1 L71.83 396.01 L73.34 394.94 L74.85 393.9 L76.36 392.89 L77.87 391.89 L79.38 390.93 L80.88 390 L82.39 389.11 L83.9 388.25 L85.41 387.42 L86.92 386.6 L88.42 385.79 L89.93 384.96 L91.44 384.12 L92.95 383.25 L94.46 382.34 L95.97 381.42 L97.47 380.48 L98.98 379.52 L100.49 378.56 L102 377.6 L103.51 376.63 L105.02 375.67 L106.52 374.72 L108.03 373.79 L109.54 372.87 L111.05 371.95 L112.56 371.04 L114.07 370.11 L115.57 369.18 L117.08 368.22 L118.59 367.24 L120.1 366.23 L121.61 365.16 L123.12 364.06 L124.62 362.93 L126.13 361.78 L127.64 360.62 L129.15 359.46 L130.66 358.32 L132.17 357.2 L133.67 356.12 L135.18 355.04 L136.69 353.96 L138.2 352.89 L139.71 351.83 L141.22 350.78 L142.72 349.76 L144.23 348.75 L145.74 347.76 L147.25 346.78 L148.76 345.78 L150.27 344.77 L151.77 343.8 L153.28 342.89 L154.79 342.07 L156.3 341.38 L157.81 340.81 L159.32 340.31 L160.82 339.85 L162.33 339.43 L163.84 339.04 L165.35 338.66 L166.86 338.28 L168.37 337.89 L169.88 337.48 L171.38 337.05 L172.89 336.63 L174.4 336.21 L175.91 335.79 L177.42 335.37 L178.92 334.95 L180.43 334.54 L181.94 334.12 L183.45 333.7 L184.96 333.27 L186.47 332.82 L187.97 332.37 L189.48 331.92 L190.99 331.48 L192.5 331.07 L194.01 330.69 L195.52 330.36 L197.02 330.06 L198.53 329.76 L200.04 329.46 L201.55 329.18 L203.06 328.93 L204.57 328.72 L206.07 328.57 L207.58 328.5 L209.09 328.56 L210.6 328.8 L212.11 329.2 L213.62 329.7 L215.12 330.26 L216.63 330.84 L218.14 331.39 L219.65 331.95 L221.16 332.56 L222.67 333.23 L224.17 333.94 L225.68 334.69 L227.19 335.48 L228.7 336.3" stroke="#ff0000" stroke-width="1.55"/>
</g>
<path d="M74.4 370.2h6M77.4 367.2v6M90.7 364.9h6M93.7 361.9v6M108.4 360.7h6M111.4 357.7v6M125.8 352.9h6M128.8 349.9v6M139.9 341.7h6M142.9 338.7v6M151.9 339.1h6M154.9 336.1v6M162.7 332.5h6M165.7 329.5v6M174.3 327.2h6M177.3 324.2v6M185.9 324.7h6M188.9 321.7v6M197.5 324.4h6M200.5 321.4v6M208.6 325h6M211.6 322v6M220.2 329.7h6M223.2 326.7v6" stroke="#000" stroke-width="0.65" fill="none"/>
<path d="M71.89 411.9v-3.1M71.89 297.5v3.1M78.44 411.9v-3.1M78.44 297.5v3.1M84.98 411.9v-3.1M84.98 297.5v3.1M91.53 411.9v-3.1M91.53 297.5v3.1M98.07 411.9v-6M98.07 297.5v6M104.61 411.9v-3.1M104.61 297.5v3.1M111.16 411.9v-3.1M111.16 297.5v3.1M117.7 411.9v-3.1M117.7 297.5v3.1M124.25 411.9v-3.1M124.25 297.5v3.1M130.79 411.9v-6M130.79 297.5v6M137.33 411.9v-3.1M137.33 297.5v3.1M143.88 411.9v-3.1M143.88 297.5v3.1M150.42 411.9v-3.1M150.42 297.5v3.1M156.97 411.9v-3.1M156.97 297.5v3.1M163.51 411.9v-6M163.51 297.5v6M170.05 411.9v-3.1M170.05 297.5v3.1M176.6 411.9v-3.1M176.6 297.5v3.1M183.14 411.9v-3.1M183.14 297.5v3.1M189.69 411.9v-3.1M189.69 297.5v3.1M196.23 411.9v-6M196.23 297.5v6M202.77 411.9v-3.1M202.77 297.5v3.1M209.32 411.9v-3.1M209.32 297.5v3.1M215.86 411.9v-3.1M215.86 297.5v3.1M222.41 411.9v-3.1M222.41 297.5v3.1M65.35 409.16h3.3M228.95 409.16h-3.3M65.35 404.83h3.3M228.95 404.83h-3.3M65.35 401.47h6.4M228.95 401.47h-6.4M65.35 391.04h3.3M228.95 391.04h-3.3M65.35 380.6h3.3M228.95 380.6h-3.3M65.35 374.5h3.3M228.95 374.5h-3.3M65.35 370.17h3.3M228.95 370.17h-3.3M65.35 366.81h6.4M228.95 366.81h-6.4M65.35 356.38h3.3M228.95 356.38h-3.3M65.35 345.95h3.3M228.95 345.95h-3.3M65.35 339.84h3.3M228.95 339.84h-3.3M65.35 335.51h3.3M228.95 335.51h-3.3M65.35 332.16h6.4M228.95 332.16h-6.4M65.35 321.72h3.3M228.95 321.72h-3.3M65.35 311.29h3.3M228.95 311.29h-3.3M65.35 305.19h3.3M228.95 305.19h-3.3M65.35 300.86h3.3M228.95 300.86h-3.3M65.35 297.5h6.4M228.95 297.5h-6.4" stroke="#000" stroke-width="1.15" fill="none"/>
<rect x="65.35" y="297.5" width="163.6" height="114.4" fill="none" stroke="#000" stroke-width="1.3"/>
<text x="66.55" y="426.9" font-size="11.2" text-anchor="middle">300</text>
<text x="99.27" y="426.9" font-size="11.2" text-anchor="middle">320</text>
<text x="131.99" y="426.9" font-size="11.2" text-anchor="middle">340</text>
<text x="164.71" y="426.9" font-size="11.2" text-anchor="middle">360</text>
<text x="197.43" y="426.9" font-size="11.2" text-anchor="middle">380</text>
<text x="230.15" y="426.9" font-size="11.2" text-anchor="middle">400</text>
<text x="58.95" y="302.6" font-size="11.2" text-anchor="end">10<tspan font-size="9.52" dy="-5.1">0</tspan></text>
<text x="58.95" y="337.26" font-size="11.2" text-anchor="end">10<tspan font-size="9.52" dy="-5.1">-1</tspan></text>
<text x="58.95" y="371.91" font-size="11.2" text-anchor="end">10<tspan font-size="9.52" dy="-5.1">-2</tspan></text>
<text x="58.95" y="406.57" font-size="11.2" text-anchor="end">10<tspan font-size="9.52" dy="-5.1">-3</tspan></text>
<text x="81.75" y="403.6" font-size="11.2" textLength="128.4" lengthAdjust="spacing">θ<tspan font-size="8.96" dy="3.2">1</tspan><tspan dy="-3.2">=30.1</tspan><tspan font-size="8.96" dy="-5">o</tspan><tspan dy="5">,θ</tspan><tspan font-size="8.96" dy="3.2">2</tspan><tspan dy="-3.2">=68.0</tspan><tspan font-size="8.96" dy="-5">o</tspan><tspan dy="5">, ϕ</tspan><tspan font-size="8.96" dy="3.2">12</tspan><tspan dy="-3.2">=180</tspan><tspan font-size="8.96" dy="-5">o</tspan></text>
</g>
<g id="p12">
<clipPath id="c12"><rect x="274.9" y="297.5" width="163.6" height="114.4"/></clipPath>
<g clip-path="url(#c12)" fill="none" stroke-linejoin="round">
<path d="M274.9 386.4 L276.4 385.59 L277.9 384.79 L279.4 383.99 L280.9 383.2 L282.4 382.42 L283.91 381.65 L285.41 380.88 L286.91 380.12 L288.41 379.37 L289.91 378.63 L291.41 377.88 L292.91 377.14 L294.41 376.39 L295.91 375.64 L297.41 374.89 L298.91 374.14 L300.42 373.39 L301.92 372.65 L303.42 371.9 L304.92 371.14 L306.42 370.39 L307.92 369.64 L309.42 368.88 L310.92 368.11 L312.42 367.35 L313.92 366.58 L315.42 365.82 L316.93 365.07 L318.43 364.33 L319.93 363.6 L321.43 362.91 L322.93 362.23 L324.43 361.56 L325.93 360.88 L327.43 360.2 L328.93 359.49 L330.43 358.74 L331.93 357.95 L333.44 357.14 L334.94 356.29 L336.44 355.43 L337.94 354.54 L339.44 353.63 L340.94 352.71 L342.44 351.77 L343.94 350.83 L345.44 349.88 L346.94 348.92 L348.44 347.93 L349.95 346.91 L351.45 345.87 L352.95 344.82 L354.45 343.78 L355.95 342.74 L357.45 341.72 L358.95 340.73 L360.45 339.76 L361.95 338.82 L363.45 337.89 L364.96 336.98 L366.46 336.07 L367.96 335.17 L369.46 334.27 L370.96 333.37 L372.46 332.46 L373.96 331.55 L375.46 330.63 L376.96 329.7 L378.46 328.77 L379.96 327.86 L381.47 326.96 L382.97 326.09 L384.47 325.25 L385.97 324.45 L387.47 323.68 L388.97 322.93 L390.47 322.19 L391.97 321.48 L393.47 320.78 L394.97 320.1 L396.47 319.43 L397.98 318.77 L399.48 318.12 L400.98 317.44 L402.48 316.76 L403.98 316.09 L405.48 315.47 L406.98 314.9 L408.48 314.42 L409.98 314.04 L411.48 313.69 L412.98 313.35 L414.49 313.05 L415.99 312.79 L417.49 312.61 L418.99 312.51 L420.49 312.51 L421.99 312.58 L423.49 312.71 L424.99 312.87 L426.49 313.06 L427.99 313.27 L429.49 313.49 L431 313.72 L432.5 314 L434 314.33 L435.5 314.69 L437 315.08 L438.5 315.5" stroke="#000" stroke-width="1.7" stroke-dasharray="1.8 1.7 1.8 3.72"/>
<path d="M274.9 395.4 L276.4 394.7 L277.9 394 L279.4 393.29 L280.9 392.58 L282.4 391.87 L283.91 391.15 L285.41 390.42 L286.91 389.69 L288.41 388.96 L289.91 388.22 L291.41 387.48 L292.91 386.73 L294.41 385.99 L295.91 385.25 L297.41 384.5 L298.91 383.77 L300.42 383.03 L301.92 382.29 L303.42 381.54 L304.92 380.78 L306.42 380.01 L307.92 379.22 L309.42 378.42 L310.92 377.59 L312.42 376.75 L313.92 375.91 L315.42 375.06 L316.93 374.21 L318.43 373.37 L319.93 372.54 L321.43 371.71 L322.93 370.87 L324.43 370.04 L325.93 369.21 L327.43 368.38 L328.93 367.56 L330.43 366.75 L331.93 365.95 L333.44 365.14 L334.94 364.34 L336.44 363.55 L337.94 362.76 L339.44 361.98 L340.94 361.22 L342.44 360.47 L343.94 359.73 L345.44 359.02 L346.94 358.33 L348.44 357.65 L349.95 356.97 L351.45 356.29 L352.95 355.63 L354.45 354.97 L355.95 354.31 L357.45 353.64 L358.95 352.96 L360.45 352.26 L361.95 351.54 L363.45 350.81 L364.96 350.08 L366.46 349.33 L367.96 348.59 L369.46 347.84 L370.96 347.1 L372.46 346.37 L373.96 345.64 L375.46 344.89 L376.96 344.15 L378.46 343.4 L379.96 342.67 L381.47 341.94 L382.97 341.24 L384.47 340.55 L385.97 339.9 L387.47 339.22 L388.97 338.56 L390.47 337.93 L391.97 337.38 L393.47 336.96 L394.97 336.58 L396.47 336.22 L397.98 335.89 L399.48 335.61 L400.98 335.41 L402.48 335.31 L403.98 335.3 L405.48 335.32 L406.98 335.34 L408.48 335.37 L409.98 335.42 L411.48 335.47 L412.98 335.53 L414.49 335.59 L415.99 335.73 L417.49 335.99 L418.99 336.36 L420.49 336.81 L421.99 337.31 L423.49 337.84 L424.99 338.38 L426.49 338.9 L427.99 339.44 L429.49 340.01 L431 340.63 L432.5 341.28 L434 341.97 L435.5 342.68 L437 343.43 L438.5 344.2" stroke="#0000ff" stroke-width="1.7" stroke-dasharray="1.85 2.65"/>
<path d="M274.9 386.5 L276.4 385.69 L277.9 384.89 L279.4 384.09 L280.9 383.3 L282.4 382.52 L283.91 381.75 L285.41 380.98 L286.91 380.22 L288.41 379.47 L289.91 378.73 L291.41 377.98 L292.91 377.24 L294.41 376.49 L295.91 375.74 L297.41 374.99 L298.91 374.24 L300.42 373.49 L301.92 372.75 L303.42 372 L304.92 371.24 L306.42 370.49 L307.92 369.74 L309.42 368.98 L310.92 368.21 L312.42 367.45 L313.92 366.68 L315.42 365.92 L316.93 365.17 L318.43 364.43 L319.93 363.7 L321.43 363.01 L322.93 362.33 L324.43 361.66 L325.93 360.98 L327.43 360.3 L328.93 359.59 L330.43 358.84 L331.93 358.05 L333.44 357.24 L334.94 356.39 L336.44 355.53 L337.94 354.64 L339.44 353.73 L340.94 352.81 L342.44 351.87 L343.94 350.93 L345.44 349.98 L346.94 349.02 L348.44 348.03 L349.95 347.01 L351.45 345.97 L352.95 344.92 L354.45 343.88 L355.95 342.84 L357.45 341.82 L358.95 340.83 L360.45 339.86 L361.95 338.92 L363.45 337.99 L364.96 337.08 L366.46 336.17 L367.96 335.27 L369.46 334.37 L370.96 333.47 L372.46 332.56 L373.96 331.65 L375.46 330.73 L376.96 329.8 L378.46 328.87 L379.96 327.96 L381.47 327.06 L382.97 326.19 L384.47 325.35 L385.97 324.55 L387.47 323.78 L388.97 323.03 L390.47 322.29 L391.97 321.58 L393.47 320.88 L394.97 320.2 L396.47 319.53 L397.98 318.87 L399.48 318.22 L400.98 317.54 L402.48 316.86 L403.98 316.19 L405.48 315.57 L406.98 315 L408.48 314.52 L409.98 314.14 L411.48 313.79 L412.98 313.45 L414.49 313.15 L415.99 312.89 L417.49 312.71 L418.99 312.61 L420.49 312.61 L421.99 312.68 L423.49 312.81 L424.99 312.97 L426.49 313.16 L427.99 313.37 L429.49 313.59 L431 313.82 L432.5 314.1 L434 314.43 L435.5 314.79 L437 315.18 L438.5 315.6" stroke="#00ff00" stroke-width="1.55" stroke-dasharray="4.0 1.34"/>
<path d="M274.9 398.3 L276.4 397.63 L277.9 396.95 L279.4 396.26 L280.9 395.57 L282.4 394.86 L283.91 394.15 L285.41 393.42 L286.91 392.68 L288.41 391.93 L289.91 391.18 L291.41 390.42 L292.91 389.65 L294.41 388.9 L295.91 388.14 L297.41 387.4 L298.91 386.67 L300.42 385.94 L301.92 385.21 L303.42 384.46 L304.92 383.7 L306.42 382.92 L307.92 382.12 L309.42 381.27 L310.92 380.39 L312.42 379.5 L313.92 378.59 L315.42 377.68 L316.93 376.78 L318.43 375.89 L319.93 375.03 L321.43 374.19 L322.93 373.36 L324.43 372.54 L325.93 371.71 L327.43 370.88 L328.93 370.04 L330.43 369.17 L331.93 368.28 L333.44 367.35 L334.94 366.38 L336.44 365.4 L337.94 364.41 L339.44 363.43 L340.94 362.45 L342.44 361.5 L343.94 360.59 L345.44 359.72 L346.94 358.9 L348.44 358.13 L349.95 357.38 L351.45 356.67 L352.95 355.96 L354.45 355.27 L355.95 354.58 L357.45 353.88 L358.95 353.17 L360.45 352.44 L361.95 351.71 L363.45 350.97 L364.96 350.24 L366.46 349.5 L367.96 348.77 L369.46 348.03 L370.96 347.3 L372.46 346.57 L373.96 345.84 L375.46 345.09 L376.96 344.35 L378.46 343.6 L379.96 342.87 L381.47 342.14 L382.97 341.44 L384.47 340.75 L385.97 340.1 L387.47 339.42 L388.97 338.76 L390.47 338.13 L391.97 337.58 L393.47 337.16 L394.97 336.78 L396.47 336.42 L397.98 336.09 L399.48 335.81 L400.98 335.61 L402.48 335.51 L403.98 335.5 L405.48 335.5 L406.98 335.5 L408.48 335.5 L409.98 335.5 L411.48 335.5 L412.98 335.5 L414.49 335.5 L415.99 335.57 L417.49 335.79 L418.99 336.13 L420.49 336.56 L421.99 337.05 L423.49 337.57 L424.99 338.1 L426.49 338.6 L427.99 339.11 L429.49 339.67 L431 340.27 L432.5 340.91 L434 341.59 L435.5 342.29 L437 343.03 L438.5 343.8" stroke="#ff0000" stroke-width="1.55"/>
</g>
<path d="M296.6 384.6h6M299.6 381.6v6M304.8 383.2h6M307.8 380.2v6M312.6 378.4h6M315.6 375.4v6M320.6 375.3h6M323.6 372.3v6M328.8 372.3h6M331.8 369.3v6M337 368.4h6M340 365.4v6M345.4 364.4h6M348.4 361.4v6M353.6 361.5h6M356.6 358.5v6M361.8 357h6M364.8 354v6M370 353.4h6M373 350.4v6M378.1 350.4h6M381.1 347.4v6M386.4 347.4h6M389.4 344.4v6M394.6 344.6h6M397.6 341.6v6M402.5 343.3h6M405.5 340.3v6M410.8 342.6h6M413.8 339.6v6" stroke="#000" stroke-width="0.65" fill="none"/>
<path d="M281.44 411.9v-3.1M281.44 297.5v3.1M287.99 411.9v-3.1M287.99 297.5v3.1M294.53 411.9v-3.1M294.53 297.5v3.1M301.08 411.9v-3.1M301.08 297.5v3.1M307.62 411.9v-6M307.62 297.5v6M314.16 411.9v-3.1M314.16 297.5v3.1M320.71 411.9v-3.1M320.71 297.5v3.1M327.25 411.9v-3.1M327.25 297.5v3.1M333.8 411.9v-3.1M333.8 297.5v3.1M340.34 411.9v-6M340.34 297.5v6M346.88 411.9v-3.1M346.88 297.5v3.1M353.43 411.9v-3.1M353.43 297.5v3.1M359.97 411.9v-3.1M359.97 297.5v3.1M366.52 411.9v-3.1M366.52 297.5v3.1M373.06 411.9v-6M373.06 297.5v6M379.6 411.9v-3.1M379.6 297.5v3.1M386.15 411.9v-3.1M386.15 297.5v3.1M392.69 411.9v-3.1M392.69 297.5v3.1M399.24 411.9v-3.1M399.24 297.5v3.1M405.78 411.9v-6M405.78 297.5v6M412.32 411.9v-3.1M412.32 297.5v3.1M418.87 411.9v-3.1M418.87 297.5v3.1M425.41 411.9v-3.1M425.41 297.5v3.1M431.96 411.9v-3.1M431.96 297.5v3.1M274.9 408.16h3.3M438.5 408.16h-3.3M274.9 402.89h3.3M438.5 402.89h-3.3M274.9 399.16h3.3M438.5 399.16h-3.3M274.9 396.26h6.4M438.5 396.26h-6.4M274.9 387.25h3.3M438.5 387.25h-3.3M274.9 378.25h3.3M438.5 378.25h-3.3M274.9 372.98h3.3M438.5 372.98h-3.3M274.9 369.24h3.3M438.5 369.24h-3.3M274.9 366.34h6.4M438.5 366.34h-6.4M274.9 357.33h3.3M438.5 357.33h-3.3M274.9 348.33h3.3M438.5 348.33h-3.3M274.9 343.06h3.3M438.5 343.06h-3.3M274.9 339.32h3.3M438.5 339.32h-3.3M274.9 336.42h6.4M438.5 336.42h-6.4M274.9 327.42h3.3M438.5 327.42h-3.3M274.9 318.41h3.3M438.5 318.41h-3.3M274.9 313.14h3.3M438.5 313.14h-3.3M274.9 309.41h3.3M438.5 309.41h-3.3M274.9 306.51h6.4M438.5 306.51h-6.4M274.9 297.5h3.3M438.5 297.5h-3.3" stroke="#000" stroke-width="1.15" fill="none"/>
<rect x="274.9" y="297.5" width="163.6" height="114.4" fill="none" stroke="#000" stroke-width="1.3"/>
<text x="276.1" y="426.9" font-size="11.2" text-anchor="middle">200</text>
<text x="308.82" y="426.9" font-size="11.2" text-anchor="middle">220</text>
<text x="341.54" y="426.9" font-size="11.2" text-anchor="middle">240</text>
<text x="374.26" y="426.9" font-size="11.2" text-anchor="middle">260</text>
<text x="406.98" y="426.9" font-size="11.2" text-anchor="middle">280</text>
<text x="439.7" y="426.9" font-size="11.2" text-anchor="middle">300</text>
<text x="268.5" y="311.61" font-size="11.2" text-anchor="end">10<tspan font-size="9.52" dy="-5.1">1</tspan></text>
<text x="268.5" y="341.52" font-size="11.2" text-anchor="end">10<tspan font-size="9.52" dy="-5.1">0</tspan></text>
<text x="268.5" y="371.44" font-size="11.2" text-anchor="end">10<tspan font-size="9.52" dy="-5.1">-1</tspan></text>
<text x="268.5" y="401.36" font-size="11.2" text-anchor="end">10<tspan font-size="9.52" dy="-5.1">-2</tspan></text>
<text x="291.3" y="403.6" font-size="11.2" textLength="128.4" lengthAdjust="spacing">θ<tspan font-size="8.96" dy="3.2">1</tspan><tspan dy="-3.2">=41.5</tspan><tspan font-size="8.96" dy="-5">o</tspan><tspan dy="5">,θ</tspan><tspan font-size="8.96" dy="3.2">2</tspan><tspan dy="-3.2">=50.0</tspan><tspan font-size="8.96" dy="-5">o</tspan><tspan dy="5">, ϕ</tspan><tspan font-size="8.96" dy="3.2">12</tspan><tspan dy="-3.2">=180</tspan><tspan font-size="8.96" dy="-5">o</tspan></text>
</g>
<g id="legend">
<text x="295.8" y="310.4" font-size="11.2" text-anchor="end">NR</text>
<text x="299.7" y="310.4" font-size="11.2">I</text>
<path d="M310.7 307H342.8" stroke="#000" stroke-width="1.7" fill="none" stroke-dasharray="1.8 1.7 1.8 3.72"/>
<text x="295.8" y="321" font-size="11.2" text-anchor="end">R</text>
<text x="299.7" y="321" font-size="11.2">I</text>
<path d="M310.7 317.6H342.8" stroke="#0000ff" stroke-width="1.7" fill="none" stroke-dasharray="1.85 2.65"/>
<text x="295.8" y="332.2" font-size="11.2" text-anchor="end">NR</text>
<text x="298.4" y="332.2" font-size="11.2">F</text>
<path d="M310.7 328.8H342.8" stroke="#00ff00" stroke-width="1.55" fill="none" stroke-dasharray="4.0 1.34"/>
<text x="295.8" y="342.9" font-size="11.2" text-anchor="end">R</text>
<text x="298.4" y="342.9" font-size="11.2">F</text>
<path d="M310.7 339.5H342.8" stroke="#ff0000" stroke-width="1.55" fill="none"/>
<text x="304" y="354.1" font-size="11.2" text-anchor="end">exp</text>
<path d="M323.5 350.4h6M326.5 347.4v6" stroke="#000" stroke-width="0.65" fill="none"/>
</g>
<text x="223.5" y="448.9" font-size="14.3">E<tspan font-size="11.44" dy="4.3">1</tspan><tspan dy="-4.3"> [MeV]</tspan></text>
<text transform="translate(25.8 318.3) rotate(-90)" font-size="14.3">d<tspan font-size="11.44" dy="-7.2">5</tspan><tspan dy="7.2" dx="0.3" font-size="17.2" letter-spacing="0.9">σ</tspan><tspan>/dΩ</tspan><tspan font-size="11.44" dy="4.3">1</tspan><tspan dy="-4.3">dΩ</tspan><tspan font-size="11.44" dy="4.3">2</tspan><tspan dy="-4.3">dE</tspan><tspan font-size="11.44" dy="4.3">1</tspan><tspan dy="-4.3" letter-spacing="-0.04"> [mb/(MeV sr</tspan><tspan font-size="11.44" dy="-7.2">2</tspan><tspan dy="7.2">)]</tspan></text>
</svg>
</body>
</html>
